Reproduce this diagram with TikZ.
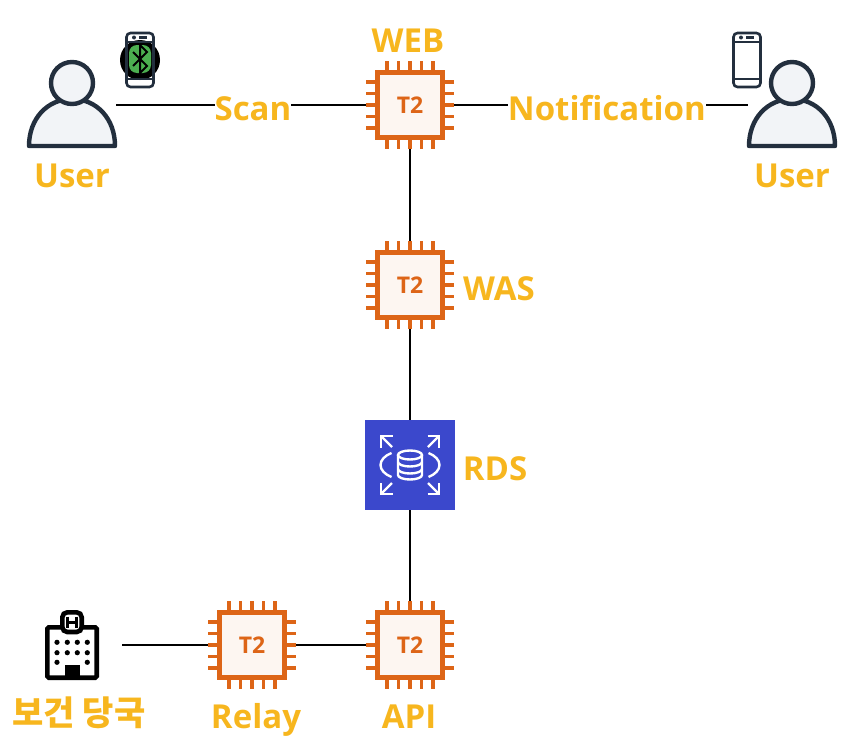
\documentclass[tikz,border=0pt]{standalone}
\usepackage{fontspec}
\setmainfont{Open Sans}
\newfontfamily\krfont{Noto Sans CJK KR}
\usetikzlibrary{arrows.meta,positioning,calc}
\definecolor{chipline}{HTML}{DD6517}
\definecolor{chipfill}{HTML}{FDF6F1}
\definecolor{userline}{HTML}{232F3E}
\definecolor{userfill}{HTML}{F2F4F7}
\definecolor{rdsblue}{HTML}{3B48CC}
\definecolor{lblyellow}{HTML}{F7B61E}
\definecolor{btgreen}{HTML}{4CAF50}
\tikzset{
  lbl/.style={font=\fontsize{33}{36}\selectfont\bfseries, text=lblyellow, inner sep=0pt, text height=24pt, text depth=7pt},
  onlink/.style={lbl, fill=white, yshift=-6.5pt},
  chip/.style={minimum size=88pt, inner sep=0pt, font=\fontsize{23}{24}\selectfont\bfseries, text=chipline},
  link/.style={draw=black, line width=2pt},
  anchorbox/.style={minimum size=#1, inner sep=0pt}
}
%% T2 instance: pins, ring and name
\newcommand{\chipicon}[3]{
  \begin{scope}[shift={(#2,#3)}]
    \foreach \k in {-2,...,2}{
      \draw[chipline, line width=3.8pt] (\k*11.5,-44)--(\k*11.5,44);
      \draw[chipline, line width=3.8pt] (-44,\k*11.5)--(44,\k*11.5);
    }
    \draw[chipline, line width=4.4pt, fill=chipfill] (-32.5,-32.5) rectangle (32.5,32.5);
  \end{scope}
  \node[chip] (#1) at (#2,#3) {T2};
}
%% person, head and shoulders
\newcommand{\usericon}[2]{
  \begin{scope}[shift={(#1,#2)}]
    \draw[userline, line width=4.4pt, fill=userfill, line join=round]
      (-43,41) .. controls (-43,14) and (-25,-6) .. (0,-6) .. controls (25,-6) and (43,14) .. (43,41) -- cycle;
    \draw[userline, line width=4.4pt, fill=userfill] (0,-22) circle (21);
  \end{scope}
}
%% handset, no fill so the badge shows through
\newcommand{\phoneicon}[2]{
  \begin{scope}[shift={(#1,#2)}, userline, line width=2.6pt]
    \draw[rounded corners=4pt] (-13.5,-27) rectangle (13.5,27);
    \draw (-13.5,-18)--(13.5,-18);
    \draw (-13.5,19)--(13.5,19);
    \fill (-6,-22.5) circle (2);
    \draw (-1,-22.5)--(7,-22.5);
  \end{scope}
}
\begin{document}
\begin{tikzpicture}[x=1pt, y=-1pt, line cap=butt]
  \useasboundingbox (0,0) rectangle (854,744);

  %% Bluetooth badge, left handset
  \fill[black] (140,60) circle (20);
  \fill[btgreen, rounded corners=8pt] (129,45) rectangle (151,73);
  \draw[black, line width=2pt] (133,52)--(147,66)--(140,73)--(140,45)--(147,52)--(133,66);
  \phoneicon{140}{60}
  \phoneicon{747}{60}

  %% Users
  \usericon{72}{105}
  \usericon{792}{105}
  \node[anchorbox=88pt] (userL) at (72,105) {};
  \node[anchorbox=88pt] (userR) at (792,105) {};

  %% Instances
  \chipicon{web}{410}{105}
  \chipicon{was}{410}{285}
  \chipicon{api}{410}{645}
  \chipicon{relay}{252}{645}

  %% RDS
  \node[anchorbox=90pt, fill=rdsblue] (rds) at (410,465) {};
  \begin{scope}[shift={(410,465)}, white, line width=2.4pt]
    \foreach \sx/\sy in {-1/-1,1/-1,-1/1,1/1}{
      \draw (\sx*18,\sy*18)--(\sx*29,\sy*29);
      \draw (\sx*17.5,\sy*29)--(\sx*29,\sy*29)--(\sx*29,\sy*17.5);
    }
    \draw (-18.5,-12) .. controls (-25,-9.5) and (-29.5,-5) .. (-29.5,0) .. controls (-29.5,5) and (-25,9.5) .. (-18.5,12);
    \draw (18.5,-12) .. controls (25,-9.5) and (29.5,-5) .. (29.5,0) .. controls (29.5,5) and (25,9.5) .. (18.5,12);
    \draw (-12,-10)--(-12,10) arc[start angle=180, end angle=360, x radius=12, y radius=-4.5]--(12,-10);
    \draw (0,-10) ellipse (12 and 4.5);
    \draw (-12,-3) arc[start angle=180, end angle=360, x radius=12, y radius=-4.5];
    \draw (-12,4) arc[start angle=180, end angle=360, x radius=12, y radius=-4.5];
  \end{scope}

  %% Health authority building
  \node[anchorbox=100pt] (hospital) at (72,645) {};
  \draw[black, line width=4.6pt, fill=white, rounded corners=1.5pt] (47.3,627.3) rectangle (96.7,677.7);
  \draw[black, line width=4.6pt, fill=white, rounded corners=5pt] (62.3,612.3) rectangle (81.7,632);
  \draw[black, line width=3pt] (67.5,616.5)--(67.5,628) (76.5,616.5)--(76.5,628) (67.5,622)--(76.5,622);
  \foreach \px in {57,67.3,77.3,87.3}{
    \foreach \py in {642.3,652.7}{
      \fill[black] (\px,\py) circle (2.6);
    }
  }
  \fill[black] (57,662.3) circle (2.6) (87.3,662.3) circle (2.6);
  \fill[black] (65,665) rectangle (80,680);

  %% Links
  \draw[link] (userL) -- node[onlink, pos=.548] {Scan} (web);
  \draw[link] (web) -- node[onlink, pos=.52] {Notification} (userR);
  \draw[link] (web) -- (was);
  \draw[link] (was) -- (rds);
  \draw[link] (rds) -- (api);
  \draw[link] (api) -- (relay);
  \draw[link] (relay) -- (hospital);

  %% Labels
  \node[lbl] (lblweb) at (408,43.5) {WEB};
  \node[lbl] (lbluserL) at (72,178.5) {User};
  \node[lbl] (lbluserR) at (792,178.5) {User};
  \node[lbl] (lblwas) at (499,291.5) {WAS};
  \node[lbl] (lblrds) at (495,471.5) {RDS};
  \node[lbl] (lblrelay) at (256,719.5) {Relay};
  \node[lbl] (lblapi) at (409,719.5) {API};
  \node[lbl, font=\krfont\fontsize{34}{36}\selectfont\bfseries] (lblgov) at (79,717) {보건 당국};
\end{tikzpicture}
\end{document}
